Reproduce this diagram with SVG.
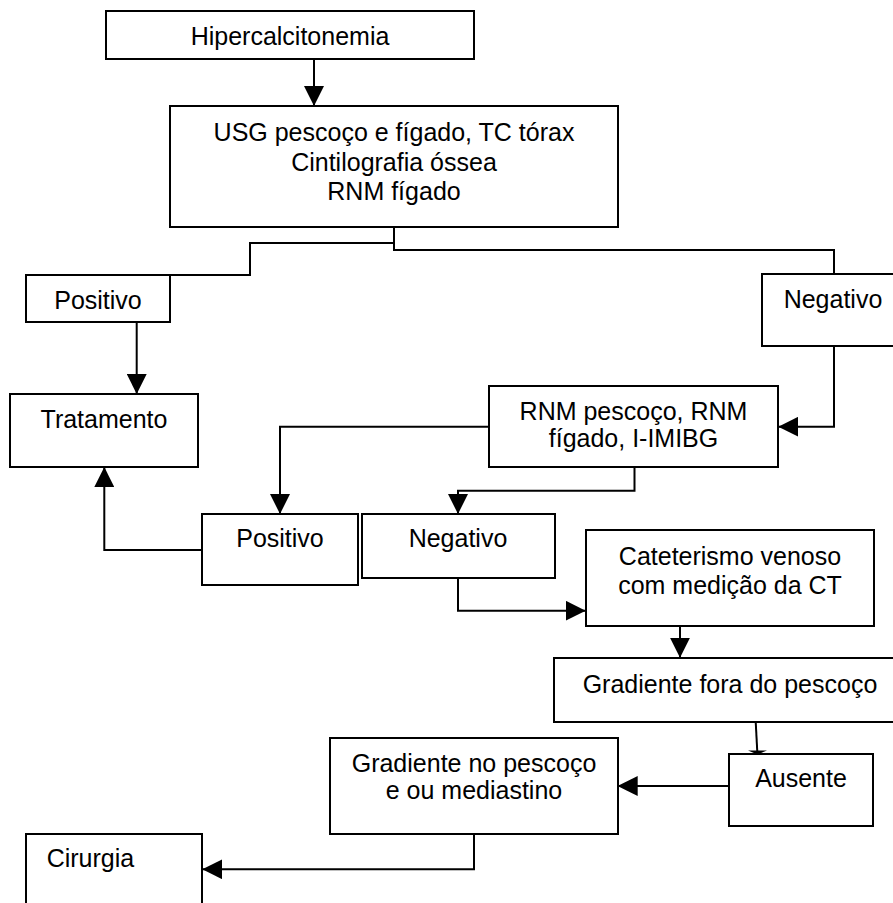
<svg xmlns="http://www.w3.org/2000/svg" width="893" height="903" viewBox="0 0 893 903">
<style>
.box{fill:#fff;stroke:#000;stroke-width:2}
.t{font-family:"Liberation Sans",Arial,sans-serif;font-size:25px;fill:#000;text-anchor:middle}
.c{fill:none;stroke:#000;stroke-width:2}
</style>
<defs>
<marker id="ah" markerUnits="userSpaceOnUse" markerWidth="20" markerHeight="20" refX="20" refY="10" orient="auto" viewBox="0 0 20 20">
<path d="M0,0 L20,10 L0,20 z" fill="#000"/>
</marker>
</defs>
<rect width="893" height="903" fill="#fff"/>
<g id="connectors">
<path class="c" d="M314 59 V106" marker-end="url(#ah)"/>
<path class="c" d="M394 227 V250 H834 V274"/>
<path class="c" d="M394 243 H250 V275 H106"/>
<path class="c" d="M136.7 322 V394" marker-end="url(#ah)"/>
<path class="c" d="M834 346 V426.7 H778.3" marker-end="url(#ah)"/>
<path class="c" d="M489 426.7 H280 V514" marker-end="url(#ah)"/>
<path class="c" d="M202 550 H104.3 V467" marker-end="url(#ah)"/>
<path class="c" d="M634.5 467 V490.7 H458 V514" marker-end="url(#ah)"/>
<path class="c" d="M458 578.3 V610.7 H585.7" marker-end="url(#ah)"/>
<path class="c" d="M680 626 V657.7" marker-end="url(#ah)"/>
<path class="c" d="M755.7 721.7 L757.3 752"/>
<polygon points="748,750.5 767,750.5 757.5,754.5" fill="#000"/>
<path class="c" d="M729.3 786 H617.7" marker-end="url(#ah)"/>
<path class="c" d="M474 834.3 V869.3 H202.3" marker-end="url(#ah)"/>
</g>
<g id="n-hiper"><rect class="box" x="106" y="11" width="368" height="48"/><text class="t" x="290" y="45">Hipercalcitonemia</text></g>
<g id="n-usg"><rect class="box" x="170" y="106" width="448" height="121"/><text class="t" x="394" y="140.5">USG pescoço e fígado, TC tórax</text><text class="t" x="394" y="170.5">Cintilografia óssea</text><text class="t" x="394" y="199.5">RNM fígado</text></g>
<g id="n-pos1"><rect class="box" x="26" y="275" width="144" height="47"/><text class="t" x="98" y="309.3">Positivo</text></g>
<g id="n-neg1"><rect class="box" x="762" y="274" width="142" height="72"/><text class="t" x="833" y="308">Negativo</text></g>
<g id="n-trat"><rect class="box" x="10" y="394" width="188" height="73"/><text class="t" x="104" y="427.7">Tratamento</text></g>
<g id="n-rnm"><rect class="box" x="489" y="386" width="289" height="81"/><text class="t" x="633.5" y="420">RNM pescoço, RNM</text><text class="t" x="633.5" y="446.7">fígado, I-IMIBG</text></g>
<g id="n-pos2"><rect class="box" x="202" y="514" width="156" height="71"/><text class="t" x="280" y="546.7">Positivo</text></g>
<g id="n-neg2"><rect class="box" x="362" y="514" width="193" height="64"/><text class="t" x="458" y="547.3">Negativo</text></g>
<g id="n-cat"><rect class="box" x="586" y="530" width="288" height="96"/><text class="t" x="730" y="565">Cateterismo venoso</text><text class="t" x="730" y="594">com medição da CT</text></g>
<g id="n-gradfora"><rect class="box" x="554" y="658" width="352" height="64"/><text class="t" x="730" y="693.3">Gradiente fora do pescoço</text></g>
<g id="n-ausente"><rect class="box" x="729" y="754" width="144" height="72"/><text class="t" x="801" y="786.7">Ausente</text></g>
<g id="n-gradno"><rect class="box" x="330" y="738" width="288" height="96"/><text class="t" x="474" y="771.7">Gradiente no pescoço</text><text class="t" x="474" y="799">e ou mediastino</text></g>
<g id="n-cir"><rect class="box" x="26" y="834" width="176" height="76"/><text class="t" x="46.7" y="866.7" style="text-anchor:start">Cirurgia</text></g>
</svg>
